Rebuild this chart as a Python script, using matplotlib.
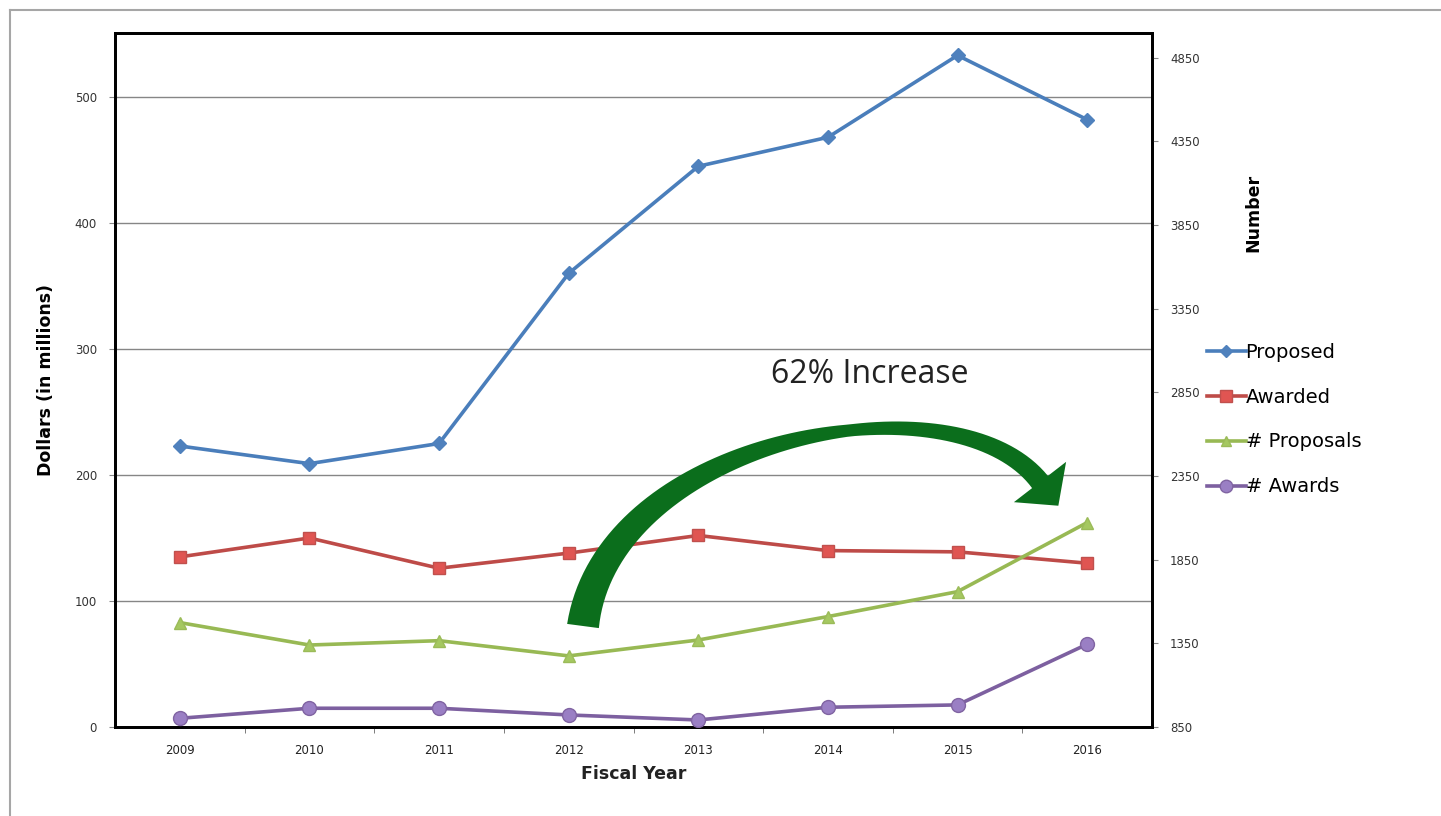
import numpy as np
import matplotlib.pyplot as plt
from matplotlib.lines import Line2D
from matplotlib.patches import Polygon

# data
years = ['2009', '2010', '2011', '2012', '2013', '2014', '2015', '2016']
proposed = [223, 209, 225, 360, 445, 468, 533, 482]        # $ millions (left axis)
awarded = [135, 150, 126, 138, 152, 140, 139, 130]         # $ millions (left axis)
n_proposals = [1474, 1340, 1366, 1275, 1370, 1510, 1659, 2072]  # count (right axis)
n_awards = [902, 962, 962, 922, 892, 968, 982, 1345]             # count (right axis)

left_ticks = [0, 100, 200, 300, 400, 500]
right_ticks = [850, 1350, 1850, 2350, 2850, 3350, 3850, 4350, 4850]

W, H = 1441, 816
fig = plt.figure(figsize=(W / 100, H / 100), dpi=100)
fig.patch.set_facecolor('white')

# outer chart-area border (cropped on right and bottom)
fig.add_artist(Line2D([10 / W, 10 / W], [0, 1 - 10 / H], color='#a6a6a6', lw=1.5))
fig.add_artist(Line2D([10 / W, 1], [1 - 10 / H, 1 - 10 / H], color='#a6a6a6', lw=1.5))

ax = fig.add_axes([115 / W, 1 - 727 / H, (1152 - 115) / W, (727 - 32.7) / H])
ax2 = ax.twinx()

x = list(range(len(years)))

l1, = ax.plot(x, proposed, color='#4a7ebb', lw=2.6, marker='D', ms=7,
              mfc='#4f81bd', mec='#4f81bd', label='Proposed', zorder=5)
l2, = ax.plot(x, awarded, color='#be4b48', lw=2.6, marker='s', ms=9,
              mfc='#e05552', mec='#c0504d', label='Awarded', zorder=5)
l3, = ax2.plot(x, n_proposals, color='#98b954', lw=2.6, marker='^', ms=8,
               mfc='#a5c861', mec='#9bbb59', label='# Proposals', zorder=5)
l4, = ax2.plot(x, n_awards, color='#7d60a0', lw=2.6, marker='o', ms=10,
               mfc='#9a7fc4', mec='#8064a2', label='# Awards', zorder=5)

ax.set_xlim(-0.5, len(years) - 0.5)
ax.set_ylim(0, 551)
ax2.set_ylim(850, 5000)

ax.set_yticks(left_ticks)
ax2.set_yticks(right_ticks)
ax.yaxis.grid(True, color='#868686', lw=1)
ax.set_axisbelow(True)

# category labels centred, tick marks on the boundaries
ax.set_xticks(x)
ax.set_xticklabels(years, fontsize=8.5, color='#222222')
ax.tick_params(axis='x', length=0, pad=12)
ax.set_xticks([i + 0.5 for i in x[:-1]], minor=True)
ax.tick_params(axis='x', which='minor', length=4, color='#666666', direction='out')

ax.tick_params(axis='y', labelsize=8.5, length=4, color='#888888', labelcolor='#333333', pad=9)
ax2.tick_params(axis='y', labelsize=8.5, length=4, color='#888888', labelcolor='#333333', pad=9)

for a in (ax, ax2):
    for s in a.spines.values():
        s.set_color('black')
        s.set_linewidth(2)

ax.set_xlabel('Fiscal Year', fontsize=12.5, fontweight='bold', color='#222222', labelpad=6)
ax.set_ylabel('Dollars (in millions)', fontsize=12.5, fontweight='bold', color='black')
ax.yaxis.set_label_coords(-0.058, 0.5)
fig.text(1253 / W, 1 - 213 / H, 'Number', rotation=90, fontsize=12.5, fontweight='bold',
         ha='center', va='center')

fig.legend(handles=[l1, l2, l3, l4], loc='upper left',
           bbox_to_anchor=(1197 / W, 1 - 333 / H), frameon=False,
           fontsize=14, handlelength=2.0, handletextpad=0.0, labelspacing=1.33,
           borderpad=0, markerscale=0.9)

# annotation text
fig.text(870 / W, 1 - 375 / H, '62% Increase', fontsize=23, family='Open Sans',
         ha='center', va='center', color='#222222')

# curved green arrow, built in pixel space (y down) then moved to figure fractions
P = np.array([[583, 626], [608, 436], [955, 372], [1040, 482]], dtype=float)
t = np.linspace(0, 1, 80)[:, None]
curve = ((1 - t) ** 3 * P[0] + 3 * (1 - t) ** 2 * t * P[1]
         + 3 * (1 - t) * t ** 2 * P[2] + t ** 3 * P[3])
deriv = (3 * (1 - t) ** 2 * (P[1] - P[0]) + 6 * (1 - t) * t * (P[2] - P[1])
         + 3 * t ** 2 * (P[3] - P[2]))
tang = deriv / np.linalg.norm(deriv, axis=1, keepdims=True)
norm = np.column_stack([-tang[:, 1], tang[:, 0]])
width = np.interp(t[:, 0], [0, 0.6, 1], [32, 12, 20])
side_a = curve + norm * width[:, None] / 2
side_b = curve - norm * width[:, None] / 2
end, d, n = curve[-1], tang[-1], norm[-1]
head = [end + n * 33, end + d * 30, end - n * 33]
poly = np.vstack([side_a, head, side_b[::-1]])
poly_fig = np.column_stack([poly[:, 0] / W, 1 - poly[:, 1] / H])
fig.add_artist(Polygon(poly_fig, closed=True, transform=fig.transFigure,
                       facecolor='#0b6e1c', edgecolor='none', zorder=10))

fig.savefig('out.png', dpi=100)
